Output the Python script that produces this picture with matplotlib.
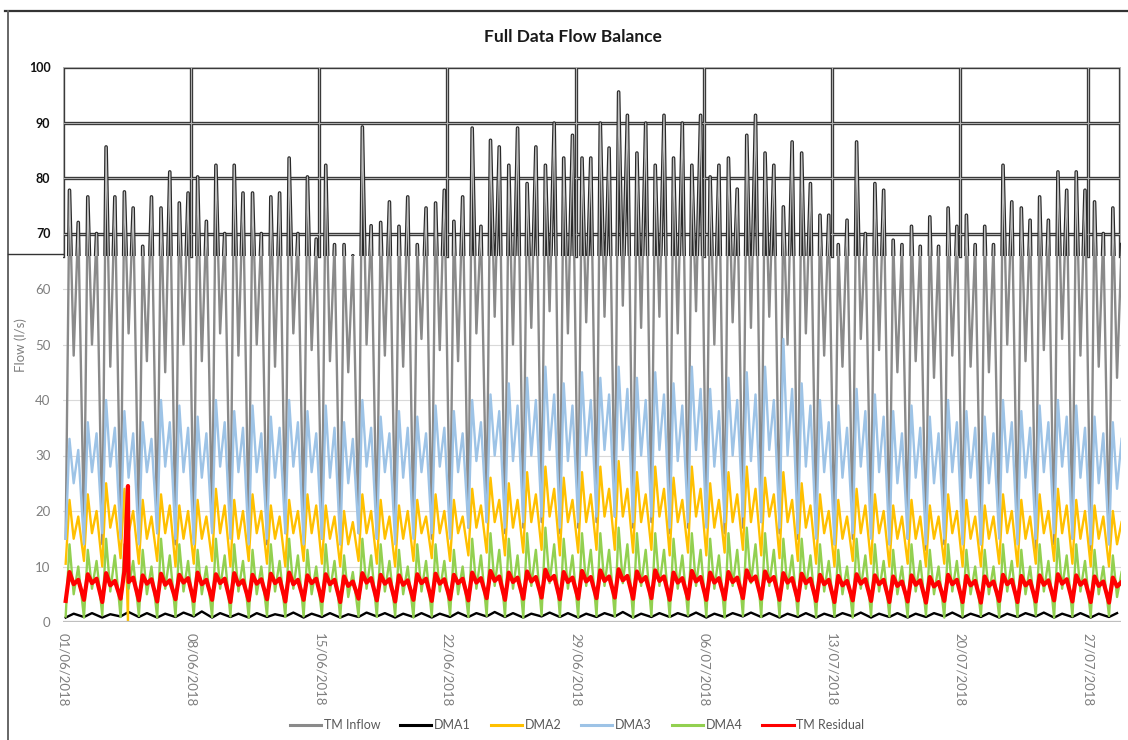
import datetime as dt
import numpy as np
import matplotlib
matplotlib.use("Agg")
import matplotlib.pyplot as plt
import matplotlib.dates as mdates
from matplotlib.patches import Rectangle
from matplotlib.lines import Line2D

plt.rcParams['font.family'] = ['Lato', 'DejaVu Sans']

# ---------------- data ----------------
start = dt.datetime(2018, 6, 1)
n_days = 58
x_end_days = 57.8
tick_dates = ["01/06/2018", "08/06/2018", "15/06/2018", "22/06/2018", "29/06/2018",
              "06/07/2018", "13/07/2018", "20/07/2018", "27/07/2018"]
series_names = ["TM Inflow", "DMA1", "DMA2", "DMA3", "DMA4", "TM Residual"]
y_ticks = [0, 10, 20, 30, 40, 50, 60, 70, 80, 90, 100]

# hours of day for key points of the daily profile
h_low, h_am, h_mid, h_pm = 3.5, 8.5, 14.0, 20.0

inflow_low = [15, 16, 14, 17, 15, 16, 14, 15, 17, 16,
              15, 14, 16, 17, 15, 14, 16, 15, 17, 16,
              15, 16, 17, 18, 16, 17, 18, 16, 17, 18,
              19, 17, 18, 16, 17, 18, 16, 17, 18, 16,
              15, 16, 14, 15, 16, 14, 15, 13, 14, 15,
              14, 16, 15, 13, 14, 15, 13, 14]
inflow_am = [77.8, 76.6, 85.6, 77.5, 67.7, 74.6, 75.5, 80.2, 82.3, 82.3,
             77.3, 76.6, 83.6, 80.2, 82.3, 68.0, 89.2, 72.0, 71.3, 68.0,
             75.5, 72.2, 89.0, 86.8, 82.3, 79.0, 82.3, 83.6, 83.6, 89.9,
             95.5, 84.5, 82.3, 83.6, 82.3, 80.2, 83.6, 87.7, 84.5, 74.8,
             84.5, 73.3, 68.0, 86.5, 79.0, 68.8, 71.3, 73.0, 74.6, 73.3,
             71.3, 82.3, 74.6, 76.6, 81.1, 81.1, 75.7, 74.6]
inflow_mid = [48, 50, 46, 52, 47, 45, 50, 47, 52, 48,
              50, 46, 52, 49, 47, 45, 50, 48, 46, 51,
              49, 47, 52, 55, 50, 53, 56, 52, 54, 55,
              57, 53, 55, 52, 56, 50, 54, 53, 55, 50,
              52, 48, 46, 51, 49, 45, 47, 44, 48, 46,
              45, 50, 47, 49, 51, 48, 46, 44]
inflow_pm = [72.0, 70.0, 76.6, 74.6, 76.6, 81.1, 77.3, 72.2, 70.0, 77.3,
             70.0, 77.3, 70.0, 69.0, 68.0, 66.0, 71.4, 75.7, 76.6, 74.6,
             77.8, 76.6, 71.3, 85.6, 89.0, 85.6, 89.9, 87.7, 83.6, 85.4,
             91.3, 89.9, 91.3, 89.9, 91.3, 82.3, 78.0, 91.3, 82.3, 86.5,
             79.0, 73.3, 72.4, 70.0, 77.8, 68.0, 67.7, 67.7, 71.3, 68.0,
             68.0, 75.7, 72.4, 72.4, 77.8, 77.8, 70.0, 68.0]

dma3_low = [15, 14, 16, 15, 14, 16, 15, 14, 16, 15,
            14, 15, 16, 14, 15, 14, 16, 15, 14, 15,
            16, 15, 17, 18, 17, 18, 19, 17, 18, 19,
            19, 18, 19, 17, 18, 17, 18, 19, 18, 17,
            16, 15, 14, 16, 15, 14, 15, 14, 15, 14,
            14, 15, 14, 15, 16, 15, 14, 14]
dma3_am = [33, 36, 40, 38, 36, 40, 39, 37, 40, 38,
           39, 37, 40, 38, 39, 36, 40, 37, 38, 37,
           39, 38, 40, 41, 43, 44, 46, 43, 45, 44,
           46, 44, 45, 43, 46, 42, 44, 45, 46, 51,
           43, 40, 39, 42, 41, 38, 39, 37, 40, 38,
           37, 40, 38, 39, 40, 39, 37, 36]
dma3_mid = [25, 27, 28, 26, 27, 28, 27, 26, 28, 27,
            27, 26, 28, 27, 26, 25, 28, 27, 26, 27,
            28, 27, 29, 30, 29, 30, 31, 29, 30, 31,
            31, 30, 31, 29, 31, 28, 30, 29, 31, 30,
            28, 27, 26, 28, 27, 25, 26, 25, 27, 26,
            25, 27, 26, 27, 28, 26, 25, 24]
dma3_pm = [31, 34, 35, 34, 33, 36, 35, 34, 36, 35,
           34, 35, 36, 34, 35, 33, 35, 34, 35, 34,
           35, 34, 36, 38, 39, 40, 41, 39, 40, 41,
           42, 40, 41, 39, 42, 38, 40, 41, 40, 42,
           39, 36, 35, 38, 37, 34, 35, 34, 36, 35,
           34, 36, 35, 36, 37, 35, 34, 33]

dma2_low = [10.5, 11.0, 10.0, 11.5, 10.5, 11.0, 10.0, 10.5, 11.0, 10.0,
            11.0, 10.5, 10.0, 11.0, 10.5, 10.0, 11.0, 10.5, 10.0, 11.0,
            11.5, 11.0, 12.0, 12.5, 12.0, 12.5, 13.0, 12.0, 12.5, 13.0,
            13.0, 12.5, 13.0, 12.0, 12.5, 12.0, 12.5, 13.0, 12.0, 11.5,
            11.0, 10.5, 10.0, 11.0, 10.5, 10.0, 10.5, 10.0, 10.5, 10.0,
            10.0, 10.5, 10.0, 10.5, 11.0, 10.5, 10.0, 10.0]
dma2_am = [22, 23, 25, 24, 22, 23, 21, 22, 24, 22,
           23, 21, 22, 23, 21, 20, 23, 22, 21, 22,
           23, 22, 24, 26, 25, 27, 28, 26, 27, 28,
           29, 27, 28, 26, 28, 25, 27, 28, 26, 27,
           25, 23, 22, 24, 23, 21, 22, 21, 23, 22,
           21, 23, 22, 23, 24, 22, 21, 20]
dma2_mid = [15, 16, 17, 16, 15, 16, 15, 15, 16, 15,
            16, 15, 16, 16, 15, 14, 16, 15, 15, 16,
            16, 16, 17, 18, 17, 18, 19, 18, 18, 19,
            19, 18, 19, 18, 19, 17, 18, 18, 19, 18,
            17, 16, 15, 16, 16, 15, 15, 15, 16, 15,
            15, 16, 15, 16, 16, 15, 15, 14]
dma2_pm = [19, 20, 21, 20, 19, 21, 20, 19, 21, 20,
           20, 19, 20, 21, 19, 18, 20, 19, 20, 19,
           20, 19, 21, 22, 22, 23, 24, 22, 23, 24,
           24, 23, 24, 22, 24, 22, 23, 24, 23, 22,
           21, 20, 19, 21, 20, 19, 19, 19, 20, 19,
           19, 20, 19, 20, 21, 20, 19, 18]

dma4_low = [1.0, 0.8, 1.2, 0.9, 1.1, 0.8, 1.0, 1.2, 0.9, 1.0,
            0.8, 1.1, 0.9, 1.0, 1.2, 0.8, 1.0, 0.9, 1.1, 0.8,
            1.0, 1.2, 0.9, 1.1, 1.0, 0.8, 1.2, 1.0, 0.9, 1.1,
            1.0, 0.8, 1.1, 0.9, 1.2, 1.0, 0.8, 1.1, 0.9, 1.0,
            1.2, 0.9, 1.0, 0.8, 1.1, 1.0, 0.9, 1.2, 0.8, 1.0,
            1.1, 0.9, 1.0, 1.2, 0.8, 1.0, 0.9, 1.1]
dma4_am = [14, 13, 15, 14, 13, 15, 14, 13, 15, 14,
           13, 14, 15, 13, 14, 12, 15, 14, 13, 14,
           14, 13, 15, 16, 15, 16, 17, 15, 16, 16,
           17, 16, 16, 15, 16, 15, 16, 17, 16, 15,
           15, 14, 13, 15, 14, 13, 14, 13, 14, 13,
           13, 14, 13, 14, 15, 14, 13, 12]
dma4_mid = [5.0, 6.0, 5.5, 6.0, 5.0, 6.0, 5.5, 5.0, 6.0, 5.5,
            5.0, 5.5, 6.0, 5.0, 5.5, 4.5, 6.0, 5.5, 5.0, 5.5,
            5.5, 5.0, 6.0, 6.5, 6.0, 6.5, 7.0, 6.0, 6.5, 6.5,
            7.0, 6.5, 6.5, 6.0, 6.5, 6.0, 6.5, 7.0, 6.5, 6.0,
            6.0, 5.5, 5.0, 6.0, 5.5, 5.0, 5.5, 5.0, 5.5, 5.0,
            5.0, 5.5, 5.0, 5.5, 6.0, 5.5, 5.0, 4.5]
dma4_pm = [10, 11, 12, 11, 10, 12, 11, 10, 12, 11,
           10, 11, 12, 10, 11, 9, 12, 11, 10, 11,
           11, 10, 12, 13, 12, 13, 14, 12, 13, 13,
           14, 13, 13, 12, 13, 12, 13, 14, 13, 12,
           12, 11, 10, 12, 11, 10, 11, 10, 11, 10,
           10, 11, 10, 11, 12, 11, 10, 9]

res_low = [3.8, 4.0, 3.6, 4.2, 3.9, 3.7, 4.1, 3.8, 4.0, 3.6,
           3.9, 4.1, 3.7, 4.0, 3.8, 3.6, 4.2, 3.9, 3.7, 4.0,
           3.8, 4.1, 3.9, 4.3, 4.0, 4.2, 4.4, 4.1, 4.2, 4.3,
           4.4, 4.2, 4.3, 4.0, 4.2, 4.0, 4.1, 4.3, 4.2, 4.0,
           3.9, 3.8, 3.6, 3.9, 3.8, 3.6, 3.7, 3.5, 3.8, 3.6,
           3.5, 3.8, 3.6, 3.7, 3.9, 3.7, 3.6, 3.5]
res_am = [9.0, 8.6, 8.8, 9.2, 8.4, 8.7, 8.5, 8.9, 8.6, 8.8,
          8.5, 8.7, 8.9, 8.4, 8.6, 8.2, 8.8, 8.5, 8.4, 8.6,
          8.7, 8.5, 8.9, 9.2, 8.9, 9.1, 9.4, 9.0, 9.2, 9.3,
          9.5, 9.1, 9.3, 8.9, 9.2, 8.9, 9.0, 9.3, 9.1, 8.8,
          8.7, 8.5, 8.3, 8.6, 8.4, 8.2, 8.4, 8.1, 8.5, 8.3,
          8.2, 8.5, 8.3, 8.4, 8.6, 8.4, 8.2, 8.0]
res_mid = [6.8, 7.0, 6.6, 7.2, 6.9, 6.7, 7.1, 6.8, 7.0, 6.7,
           6.9, 7.0, 6.8, 7.0, 6.8, 6.5, 7.1, 6.9, 6.7, 7.0,
           6.9, 7.0, 7.1, 7.4, 7.2, 7.3, 7.5, 7.2, 7.3, 7.4,
           7.5, 7.3, 7.4, 7.1, 7.3, 7.1, 7.2, 7.4, 7.3, 7.1,
           7.0, 6.8, 6.6, 6.9, 6.8, 6.5, 6.7, 6.4, 6.8, 6.6,
           6.5, 6.8, 6.6, 6.7, 6.9, 6.7, 6.5, 6.4]
res_pm = [7.6, 7.8, 7.4, 8.0, 7.7, 7.5, 7.9, 7.6, 7.8, 7.5,
          7.7, 7.8, 7.6, 7.8, 7.6, 7.3, 7.9, 7.7, 7.5, 7.8,
          7.7, 7.8, 7.9, 8.2, 8.0, 8.1, 8.3, 8.0, 8.1, 8.2,
          8.3, 8.1, 8.2, 7.9, 8.1, 7.9, 8.0, 8.2, 8.1, 7.9,
          7.8, 7.6, 7.4, 7.7, 7.6, 7.3, 7.5, 7.2, 7.6, 7.4,
          7.3, 7.6, 7.4, 7.5, 7.7, 7.5, 7.3, 7.2]

dma1_low = [0.8, 0.9, 0.8, 1.0, 0.9, 0.8, 0.9, 1.0, 0.8, 0.9,
            0.8, 0.9, 1.0, 0.8, 0.9, 0.8, 0.9, 1.0, 0.8, 0.9,
            0.8, 0.9, 0.9, 1.0, 0.9, 0.8, 1.0, 0.9, 0.8, 0.9,
            1.0, 0.8, 0.9, 0.9, 1.0, 0.8, 0.9, 1.0, 0.9, 0.8,
            0.9, 0.8, 0.9, 1.0, 0.8, 0.9, 0.8, 0.9, 1.0, 0.8,
            0.9, 0.8, 0.9, 1.0, 0.8, 0.9, 0.8, 0.9]
dma1_high = [1.5, 1.6, 1.4, 1.8, 1.6, 1.5, 1.7, 1.9, 1.6, 1.5,
             1.6, 1.4, 1.7, 1.5, 1.6, 1.4, 1.7, 1.6, 1.5, 1.6,
             1.5, 1.7, 1.6, 1.8, 1.6, 1.5, 1.7, 1.6, 1.5, 1.6,
             1.8, 1.5, 1.6, 1.6, 1.7, 1.5, 1.6, 1.7, 1.6, 1.5,
             1.6, 1.5, 1.6, 1.7, 1.5, 1.6, 1.5, 1.6, 1.7, 1.5,
             1.6, 1.5, 1.6, 1.7, 1.5, 1.6, 1.5, 1.6]

# single events (day offset from 01/06/2018, value)
dma2_event_day = [3.55]
dma2_event_val = [0.0]
res_event_day = [3.55]
res_event_val = [24.5]

colors = ["#8a8a8a", "#000000", "#ffc000", "#9dc3e6", "#92d050", "#ff0000"]


def build(profile, ev_day=(), ev_val=()):
    t, v = [], []
    for d in range(n_days):
        for h, arr in profile:
            t.append(d + h / 24.0)
            v.append(arr[d])
    t += list(ev_day)
    v += list(ev_val)
    order = np.argsort(t)
    base = mdates.date2num(start)
    return base + np.array(t)[order], np.array(v)[order]


inflow = build([(h_low, inflow_low), (h_am, inflow_am), (h_mid, inflow_mid), (h_pm, inflow_pm)])
dma1 = build([(h_low, dma1_low), (h_mid, dma1_high)])
dma2 = build([(h_low, dma2_low), (h_am, dma2_am), (h_mid, dma2_mid), (h_pm, dma2_pm)],
             dma2_event_day, dma2_event_val)
dma3 = build([(h_low, dma3_low), (h_am, dma3_am), (h_mid, dma3_mid), (h_pm, dma3_pm)])
dma4 = build([(h_low, dma4_low), (h_am, dma4_am), (h_mid, dma4_mid), (h_pm, dma4_pm)])
resid = build([(h_low, res_low), (h_am, res_am), (h_mid, res_mid), (h_pm, res_pm)],
              res_event_day, res_event_val)

# ---------------- figure ----------------
W, H = 1128, 740
fig = plt.figure(figsize=(W / 100, H / 100), dpi=100)
ax = fig.add_axes([63 / W, 118 / H, (1121 - 63) / W, 555 / H])

x0 = mdates.date2num(start)
x1 = x0 + x_end_days
ax.set_xlim(x0, x1)
ax.set_ylim(0, 100)
for s in ax.spines.values():
    s.set_visible(False)

split = 66.0  # lower edge of the dark top band

# light grid (lower part)
for yv in y_ticks[1:7]:
    ax.axhline(yv, color="#d9d9d9", lw=0.8, zorder=0.5)
ax.axhline(0, color="#bfbfbf", lw=1.6, zorder=10)

# dark grid (top band)
for yv in [70, 80, 90, 100]:
    ax.axhline(yv, color="#3a3a3a", lw=2.4, zorder=1)
    ax.axhline(yv, color="#b0b0b0", lw=0.7, zorder=1.1)
tick_nums = [mdates.date2num(dt.datetime.strptime(s, "%d/%m/%Y")) for s in tick_dates]
for xv in tick_nums + [x1 - 0.05]:
    ax.axvline(xv, ymin=split / 100, ymax=1, color="#3a3a3a", lw=2.4, zorder=1)
    ax.axvline(xv, ymin=split / 100, ymax=1, color="#b0b0b0", lw=0.7, zorder=1.1)

lw = 1.7
data = [inflow, dma1, dma2, dma3, dma4, resid]
lines = []
for i, (name, (tx, vy)) in enumerate(zip(series_names, data)):
    ln, = ax.plot(tx, vy, color=colors[i], lw=(3.0 if i == 5 else lw), zorder=2 + i,
                  solid_joinstyle="round")
    lines.append(ln)

# lower clip for inflow, outlined look in the top band
low_clip = Rectangle((x0, 0), x1 - x0, split, transform=ax.transData)
lines[0].set_clip_path(low_clip)
top_clip1 = Rectangle((x0, split), x1 - x0, 100 - split, transform=ax.transData)
top_clip2 = Rectangle((x0, split), x1 - x0, 100 - split, transform=ax.transData)
o1, = ax.plot(inflow[0], inflow[1], color="#2a2a2a", lw=2.6, zorder=9)
o2, = ax.plot(inflow[0], inflow[1], color="#c0c0c0", lw=0.9, zorder=9.5)
o1.set_clip_path(top_clip1)
o2.set_clip_path(top_clip2)

# ticks
ax.set_yticks(y_ticks)
ax.set_yticklabels([str(v) for v in y_ticks])
ax.tick_params(axis="y", length=0, pad=9)
for lab, v in zip(ax.get_yticklabels(), y_ticks):
    if v >= 70:
        lab.set_color("#111111")
        lab.set_fontweight("bold")
        lab.set_fontsize(9)
    else:
        lab.set_color("#7f7f7f")
        lab.set_fontsize(9.5)

ax.set_xticks(tick_nums)
ax.set_xticklabels(tick_dates, rotation=-90, color="#7f7f7f", fontsize=9.5)
ax.tick_params(axis="x", length=0, pad=8)

fig.text(21 / W, 1 - 345 / H, "Flow (l/s)", rotation=90, ha="center", va="center",
         color="#7f7f7f", fontsize=9.5)

fig.text(573 / W, 1 - 37 / H, "Full Data Flow Balance", ha="center", va="center",
         fontsize=12.5, fontweight="bold", color="#1a1a1a")

handles = [Line2D([], [], color=c, lw=2.2) for c in colors]
leg = fig.legend(handles, series_names, loc="center", bbox_to_anchor=(577 / W, 1 - 725 / H),
                 ncol=6, frameon=False, fontsize=9, handlelength=2.5, handletextpad=0.2,
                 columnspacing=1.6)
for t in leg.get_texts():
    t.set_color("#595959")

# outer frame pieces
fig.add_artist(Line2D([5 / W, 1.0], [1 - 11 / H, 1 - 11 / H], color="#333333", lw=1.6))
fig.add_artist(Line2D([8 / W, 8 / W], [0, 1 - 11 / H], color="#666666", lw=1.4))
fig.add_artist(Line2D([8 / W, 63 / W], [1 - 254 / H, 1 - 254 / H], color="#333333", lw=1.0))

fig.savefig("out.png", dpi=100)
